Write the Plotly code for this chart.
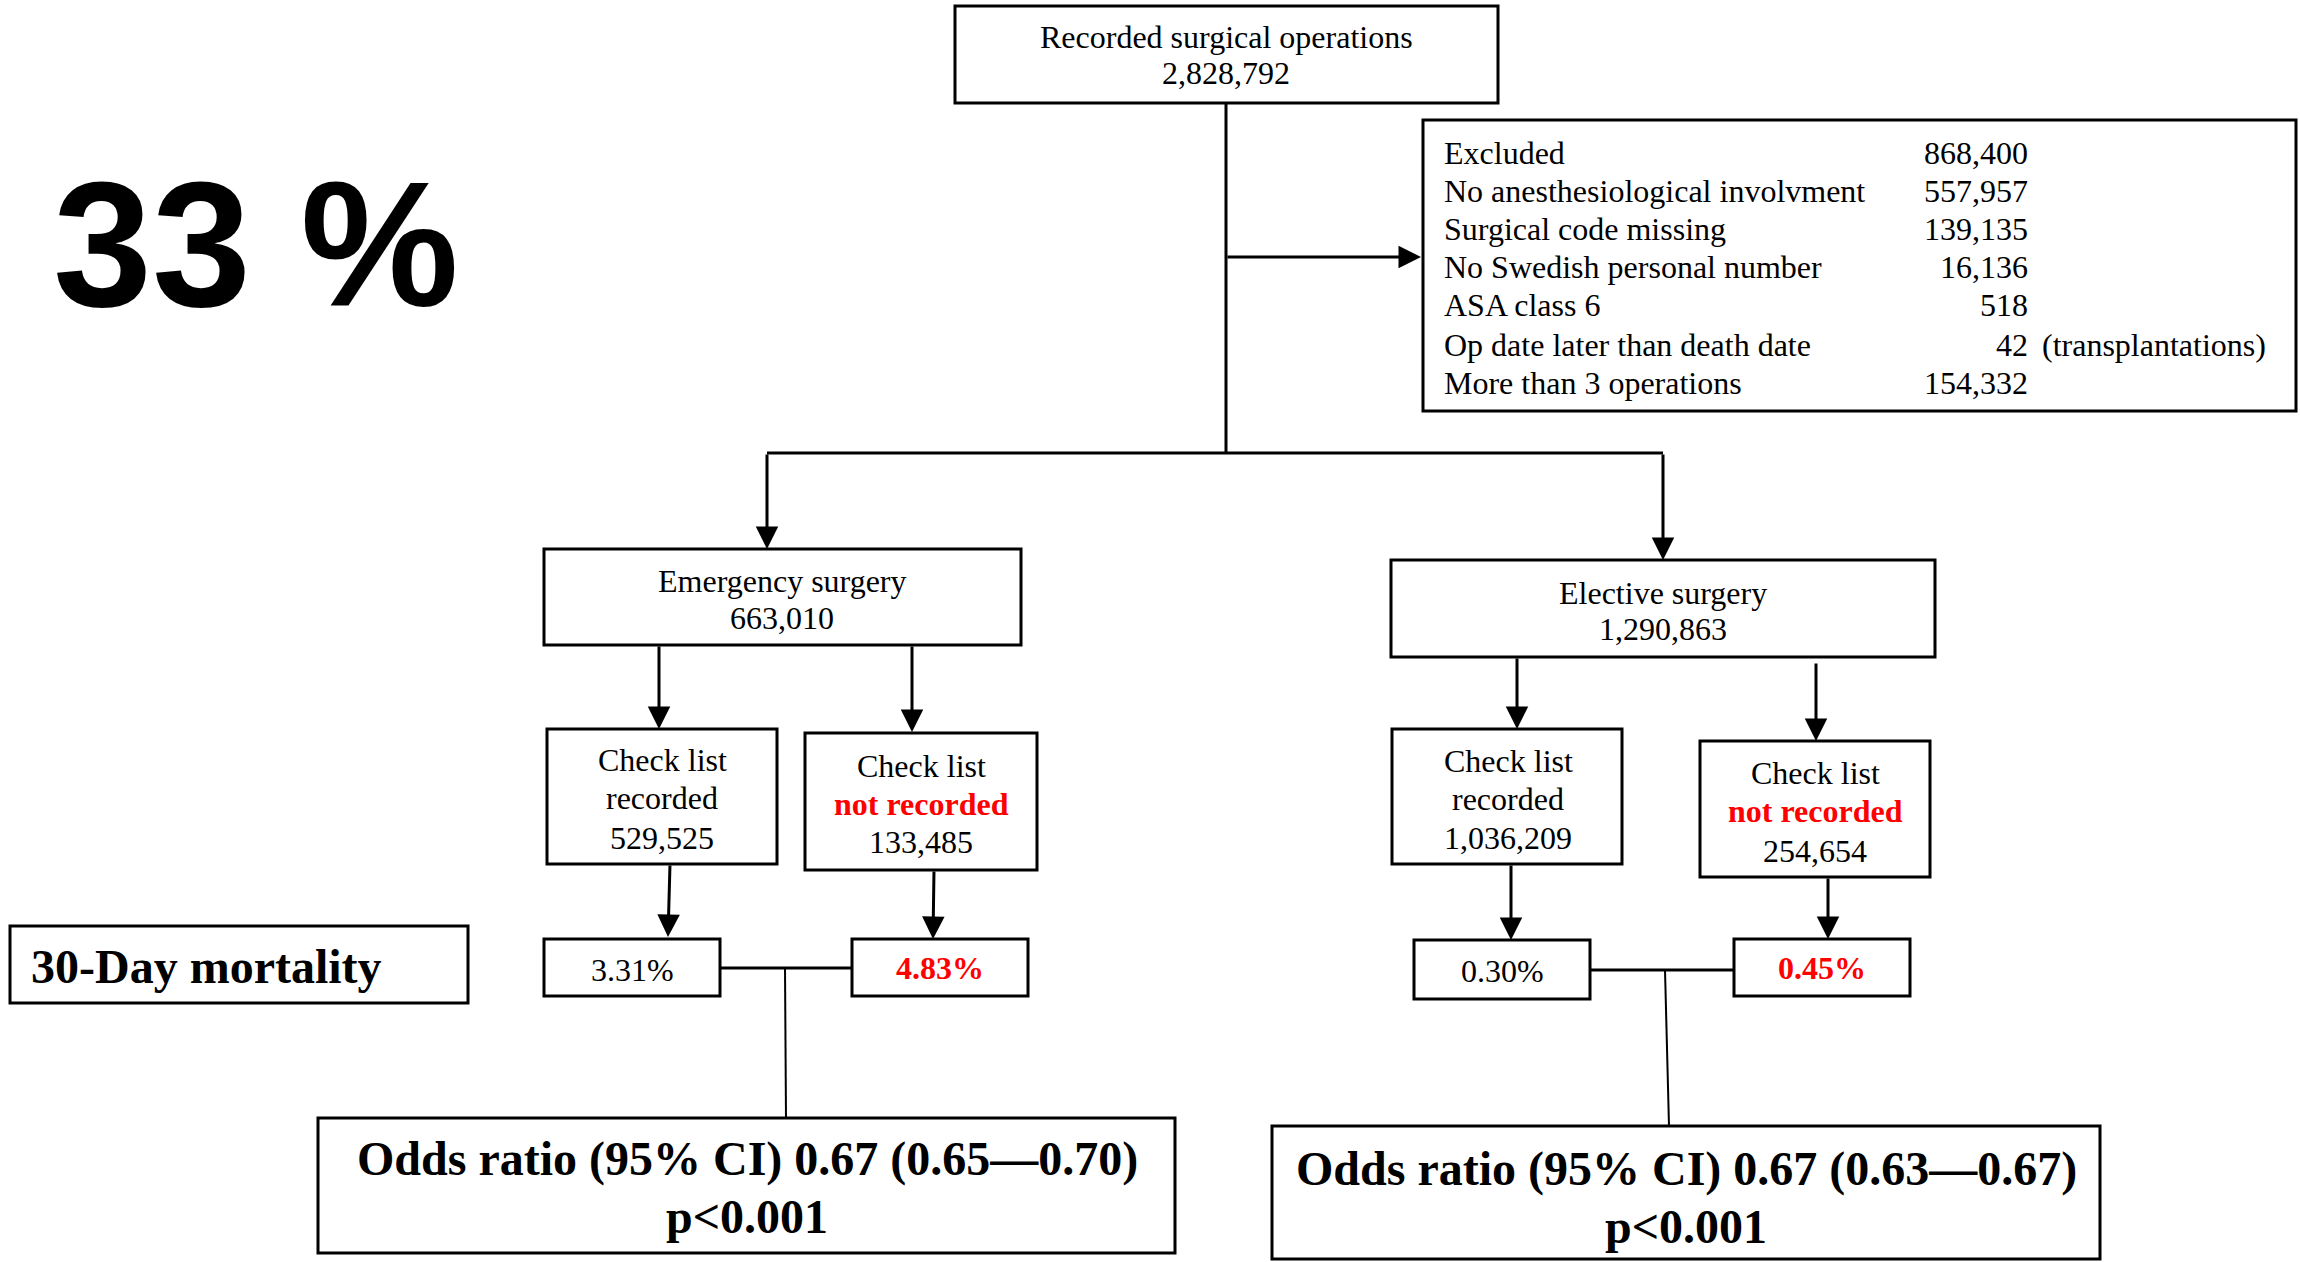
import plotly.graph_objects as go

# ---------------- data ----------------
headline = "33 %"
total_label = "Recorded surgical operations"
total_n = 2828792
excluded_reasons = ["Excluded", "No anesthesiological involvment", "Surgical code missing",
                    "No Swedish personal number", "ASA class 6",
                    "Op date later than death date", "More than 3 operations"]
excluded_counts = [868400, 557957, 139135, 16136, 518, 42, 154332]
excluded_notes = ["", "", "", "", "", "(transplantations)", ""]
group_names = ["Emergency surgery", "Elective surgery"]
group_n = [663010, 1290863]
checklist_recorded_n = [529525, 1036209]
checklist_not_n = [133485, 254654]
mortality_recorded = [3.31, 0.30]
mortality_not = [4.83, 0.45]
odds_ratio = [0.67, 0.67]
ci_low = [0.65, 0.63]
ci_high = [0.70, 0.67]
p_text = ["p<0.001", "p<0.001"]
outcome_label = "30-Day mortality"

# ---------------- layout geometry (pixels) ----------------
W, H = 2300, 1262
SERIF = "Liberation Serif"
RED = "#FF0000"
LW = 3

shapes = []
annots = []


def box(x0, y0, x1, y1):
    shapes.append(dict(type="rect", xref="x", yref="y", x0=x0, y0=y0, x1=x1, y1=y1,
                       line=dict(color="black", width=LW), fillcolor="rgba(0,0,0,0)"))


def line(x0, y0, x1, y1, w=LW):
    shapes.append(dict(type="line", xref="x", yref="y", x0=x0, y0=y0, x1=x1, y1=y1,
                       line=dict(color="black", width=w)))


def arrow(x0, y0, x1, y1):
    annots.append(dict(x=x1, y=y1, ax=x0, ay=y0, xref="x", yref="y", axref="x", ayref="y",
                       text="", showarrow=True, arrowhead=2, arrowsize=1.5, arrowwidth=LW,
                       arrowcolor="black", standoff=0, startstandoff=0))


def text(x, y, s, size=32, color="black", xanchor="center", family=SERIF):
    annots.append(dict(x=x, y=y, xref="x", yref="y", text=s, showarrow=False,
                       xanchor=xanchor, yanchor="middle",
                       font=dict(family=family, size=size, color=color)))


fmt = lambda n: f"{n:,}"

# headline
text(256, 244, f"<b>{headline}</b>", size=178, family="Liberation Sans")

# top box
box(955, 6, 1498, 103)
text(1226, 37, total_label)
text(1226, 73, fmt(total_n))
line(1226, 103, 1226, 453)
arrow(1226, 257, 1421, 257)

# excluded box
box(1423, 120, 2296, 411)
row_y = [153, 191, 229, 267, 305, 345, 383]
for i, (r, c, nt) in enumerate(zip(excluded_reasons, excluded_counts, excluded_notes)):
    text(1442, row_y[i], r, xanchor="left")
    text(2030, row_y[i], fmt(c), xanchor="right")
    if nt:
        text(2040, row_y[i], nt, xanchor="left")

# split
line(767, 453, 1663, 453)
arrow(767, 453, 767, 549)
arrow(1663, 453, 1663, 560)

groups = [
    dict(box=(544, 549, 1021, 645), cx=782, ty=(581, 618),
         arr=[(659, 645, 659, 729), (912, 645, 912, 732)],
         rec=(547, 729, 777, 864), rec_cx=662, rec_ty=(760, 798, 838),
         nrec=(805, 733, 1037, 870), nrec_cx=921, nrec_ty=(766, 804, 842),
         marr=[(670, 864, 668, 937), (934, 870, 933, 939)],
         mrec=(544, 939, 720, 996), mrec_cx=632, mrec_ty=970,
         mnrec=(852, 939, 1028, 996), mnrec_cx=940, mnrec_ty=968,
         conn_y=968, vx=(785, 786), orb=(318, 1118, 1175, 1253), or_cx=747, or_ty=(1159, 1216)),
    dict(box=(1391, 560, 1935, 657), cx=1663, ty=(593, 629),
         arr=[(1517, 657, 1517, 729), (1816, 662, 1816, 741)],
         rec=(1392, 729, 1622, 864), rec_cx=1508, rec_ty=(761, 799, 838),
         nrec=(1700, 741, 1930, 877), nrec_cx=1815, nrec_ty=(773, 811, 851),
         marr=[(1511, 864, 1511, 940), (1828, 877, 1828, 939)],
         mrec=(1414, 940, 1590, 999), mrec_cx=1502, mrec_ty=971,
         mnrec=(1734, 939, 1910, 996), mnrec_cx=1822, mnrec_ty=968,
         conn_y=970, vx=(1665, 1669), orb=(1272, 1126, 2100, 1259), or_cx=1686, or_ty=(1169, 1226)),
]

for i, g in enumerate(groups):
    box(*g["box"])
    text(g["cx"], g["ty"][0], group_names[i])
    text(g["cx"], g["ty"][1], fmt(group_n[i]))
    for a in g["arr"]:
        arrow(*a)
    box(*g["rec"])
    text(g["rec_cx"], g["rec_ty"][0], "Check list")
    text(g["rec_cx"], g["rec_ty"][1], "recorded")
    text(g["rec_cx"], g["rec_ty"][2], fmt(checklist_recorded_n[i]))
    box(*g["nrec"])
    text(g["nrec_cx"], g["nrec_ty"][0], "Check list")
    text(g["nrec_cx"], g["nrec_ty"][1], "<b>not recorded</b>", color=RED)
    text(g["nrec_cx"], g["nrec_ty"][2], fmt(checklist_not_n[i]))
    for a in g["marr"]:
        arrow(*a)
    box(*g["mrec"])
    text(g["mrec_cx"], g["mrec_ty"], f"{mortality_recorded[i]:.2f}%", size=32)
    box(*g["mnrec"])
    text(g["mnrec_cx"], g["mnrec_ty"], f"<b>{mortality_not[i]:.2f}%</b>", size=32, color=RED)
    line(g["mrec"][2], g["conn_y"], g["mnrec"][0], g["conn_y"])
    line(g["vx"][0], g["conn_y"], g["vx"][1], g["orb"][1], w=2)
    box(*g["orb"])
    text(g["or_cx"], g["or_ty"][0],
         f"<b>Odds ratio (95% CI) {odds_ratio[i]:.2f} ({ci_low[i]:.2f}\u2014{ci_high[i]:.2f})</b>", size=48)
    text(g["or_cx"], g["or_ty"][1], f"<b>{p_text[i]}</b>", size=48)

# outcome label box
box(10, 926, 468, 1003)
text(29, 966, f"<b>{outcome_label}</b>", size=48, xanchor="left")

fig = go.Figure()
fig.update_layout(
    width=W, height=H, margin=dict(l=0, r=0, t=0, b=0),
    paper_bgcolor="white", plot_bgcolor="white",
    xaxis=dict(range=[0, W], visible=False, fixedrange=True),
    yaxis=dict(range=[H, 0], visible=False, fixedrange=True),
    shapes=shapes, annotations=annots, showlegend=False,
)
fig.write_html(
    "out.html",
    config={"displayModeBar": False},
    post_script="document.body.style.margin='0';document.body.style.overflow='hidden';",
)
